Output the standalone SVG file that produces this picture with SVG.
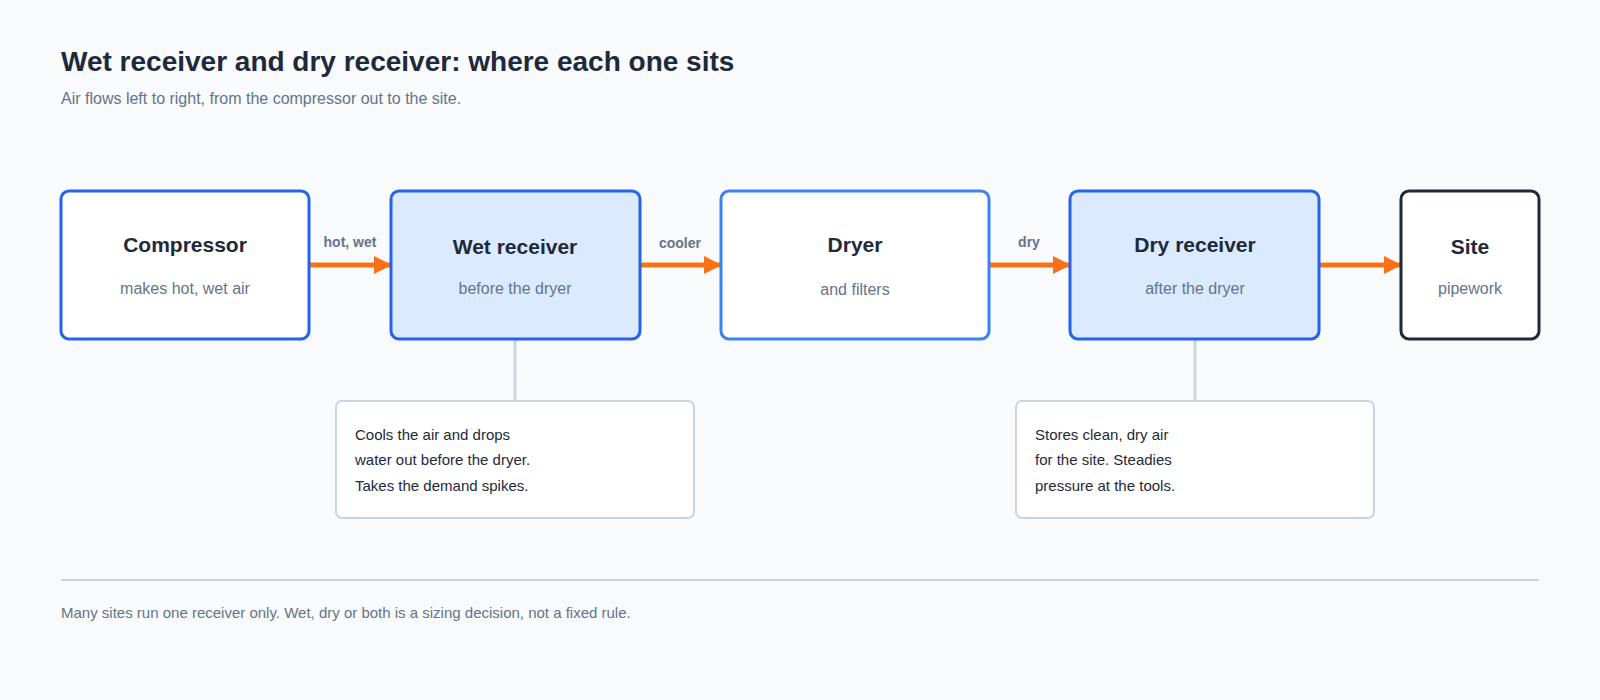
<svg xmlns="http://www.w3.org/2000/svg" width="1600" height="700" viewBox="0 0 1600 700">
<style>
text{font-family:"Liberation Sans",Arial,sans-serif}
.box{stroke-width:3;rx:8}
.t{font-size:21px;font-weight:bold;fill:#1e293b;text-anchor:middle}
.s{font-size:16px;fill:#64748b;text-anchor:middle}
.lab{font-size:14px;font-weight:bold;fill:#64748b;text-anchor:middle}
.note{fill:#fff;stroke:#cbd5e1;stroke-width:2}
.nt{font-size:15px;fill:#1e293b}
.fl{stroke:#f97316;stroke-width:5;fill:none;marker-end:url(#ah)}
</style>
<defs><marker id="ah" viewBox="0 0 10 10" refX="9" refY="5" markerWidth="3.6" markerHeight="4" orient="auto" markerUnits="strokeWidth"><path d="M0,0L10,5L0,10z" fill="#f97316"/></marker></defs>
<rect width="1600" height="700" fill="#f8fafc"/>
<text x="61" y="71" font-size="28" font-weight="bold" fill="#1e293b">Wet receiver and dry receiver: where each one sits</text>
<text x="61" y="104" font-size="16" fill="#64748b">Air flows left to right, from the compressor out to the site.</text>
<g id="connectors">
<path class="fl" d="M309,265H390"/>
<path class="fl" d="M640,265H720"/>
<path class="fl" d="M989,265H1069"/>
<path class="fl" d="M1319,265H1400"/>
<path d="M515,339V401M1195,339V401" stroke="#cbd5e1" stroke-width="3"/>
<text class="lab" x="350" y="247">hot, wet</text>
<text class="lab" x="680" y="248">cooler</text>
<text class="lab" x="1029" y="247">dry</text>
</g>
<g id="compressor"><rect class="box" x="61" y="191" width="248" height="148" fill="#fff" stroke="#2563eb"/><text class="t" x="185" y="252">Compressor</text><text class="s" x="185" y="294">makes hot, wet air</text></g>
<g id="wet"><rect class="box" x="391" y="191" width="249" height="148" fill="#dbeafe" stroke="#2563eb"/><text class="t" x="515" y="254">Wet receiver</text><text class="s" x="515" y="294">before the dryer</text></g>
<g id="dryer"><rect class="box" x="721" y="191" width="268" height="148" fill="#fff" stroke="#3b82f6"/><text class="t" x="855" y="252">Dryer</text><text class="s" x="855" y="295">and filters</text></g>
<g id="dryrec"><rect class="box" x="1070" y="191" width="249" height="148" fill="#dbeafe" stroke="#2563eb"/><text class="t" x="1195" y="252">Dry receiver</text><text class="s" x="1195" y="294">after the dryer</text></g>
<g id="site"><rect class="box" x="1401" y="191" width="138" height="148" fill="#fff" stroke="#1e293b"/><text class="t" x="1470" y="254">Site</text><text class="s" x="1470" y="294">pipework</text></g>
<g id="note-wet"><rect class="note" x="336" y="401" width="358" height="117" rx="6"/><text class="nt" x="355" y="440">Cools the air and drops</text><text class="nt" x="355" y="465">water out before the dryer.</text><text class="nt" x="355" y="491">Takes the demand spikes.</text></g>
<g id="note-dry"><rect class="note" x="1016" y="401" width="358" height="117" rx="6"/><text class="nt" x="1035" y="440">Stores clean, dry air</text><text class="nt" x="1035" y="465">for the site. Steadies</text><text class="nt" x="1035" y="491">pressure at the tools.</text></g>
<line x1="61" y1="580" x2="1539" y2="580" stroke="#cbd5e1" stroke-width="2"/>
<text x="61" y="618" font-size="15" fill="#64748b">Many sites run one receiver only. Wet, dry or both is a sizing decision, not a fixed rule.</text>
</svg>
